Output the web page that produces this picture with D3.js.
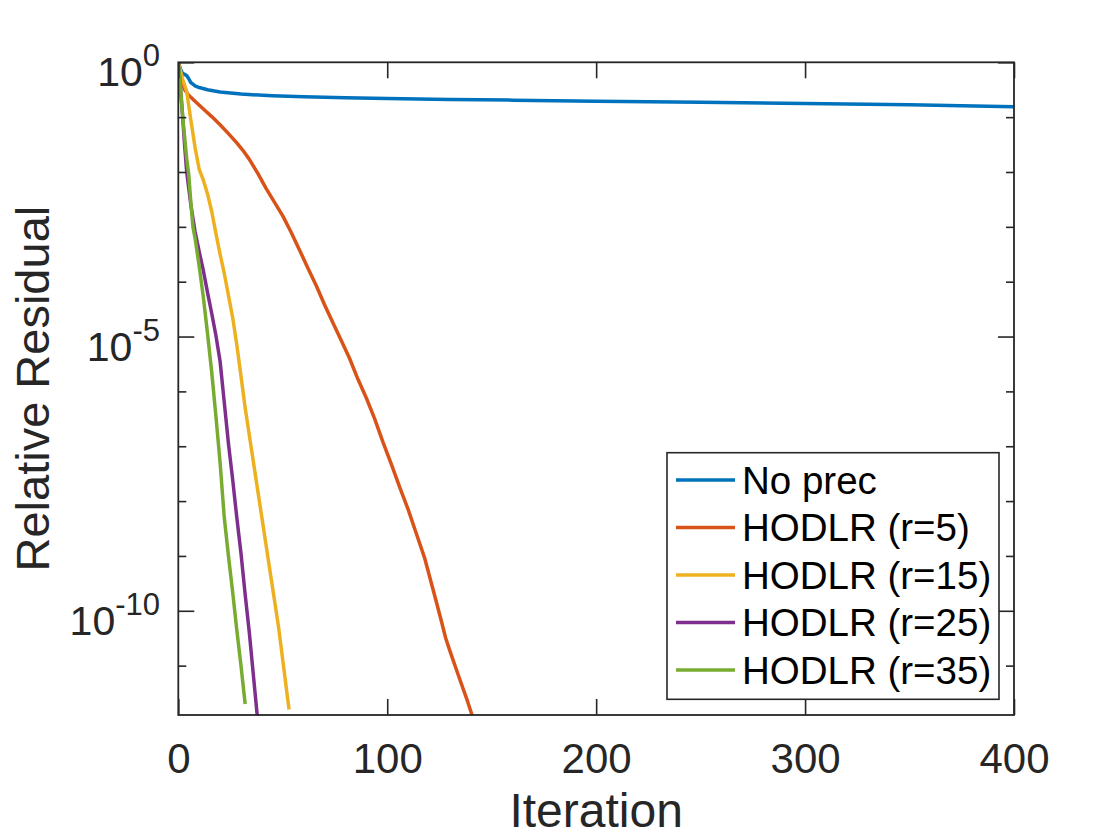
<!DOCTYPE html>
<html>
<head>
<meta charset="utf-8">
<script src="https://cdn.jsdelivr.net/npm/d3@7"></script>
<style>
  html, body { margin: 0; padding: 0; background: #fff; }
  svg text { font-family: "Liberation Sans", Arial, Helvetica, sans-serif; }
</style>
</head>
<body>
<div id="chart"></div>
<script>
// values, residuals stored as log10
const seriesNames = ["No prec", "HODLR (r=5)", "HODLR (r=15)", "HODLR (r=25)", "HODLR (r=35)"];
const seriesColors = ["#0072BD", "#D95319", "#EDB120", "#7E2F8E", "#77AC30"];

const noPrecIter = [0, 1, 2, 3, 4, 5, 6, 7, 8, 10, 14, 20, 30, 45, 60, 80, 100, 130, 160, 200, 250, 300, 350, 400];
const noPrecLog  = [0, -0.12, -0.2, -0.22, -0.24, -0.3, -0.37, -0.4, -0.43, -0.46, -0.5, -0.54, -0.58, -0.61, -0.63, -0.645, -0.66, -0.68, -0.69, -0.71, -0.73, -0.75, -0.775, -0.81];

const r5Iter = [0, 1, 2, 3, 5, 8, 12, 16, 20, 24, 28, 31, 34, 38, 42, 46, 50, 54, 58, 62, 66, 70, 74, 78, 82, 86, 90, 94, 98, 102, 106, 110, 114, 118, 122, 126, 128, 130, 134, 138, 141];
const r5Log  = [0, -0.25, -0.4, -0.5, -0.6, -0.71, -0.85, -0.99, -1.14, -1.3, -1.47, -1.61, -1.77, -2.02, -2.3, -2.55, -2.8, -3.1, -3.42, -3.75, -4.07, -4.42, -4.75, -5.07, -5.4, -5.78, -6.12, -6.5, -6.93, -7.33, -7.75, -8.15, -8.6, -9.05, -9.62, -10.2, -10.5, -10.73, -11.17, -11.6, -11.95];

const r15Iter = [0, 2, 4, 6, 8, 10, 12, 14, 16, 18, 20, 22, 24, 26, 28, 30, 32, 34, 36, 38, 40, 42, 44, 46, 48, 50, 52, 53];
const r15Log  = [0, -0.3, -0.53, -1.05, -1.55, -1.95, -2.15, -2.4, -2.72, -3.12, -3.5, -3.85, -4.25, -4.65, -5.15, -5.72, -6.3, -6.8, -7.3, -7.8, -8.3, -8.8, -9.3, -9.8, -10.3, -10.9, -11.5, -11.8];

const r25Iter = [0, 1, 2, 3, 4, 6, 8, 10, 12, 14, 16, 18, 20, 22, 24, 26, 28, 30, 32, 34, 36, 38];
const r25Log  = [0, -0.45, -0.95, -1.5, -1.99, -2.6, -3.08, -3.45, -3.8, -4.2, -4.58, -4.98, -5.45, -6.2, -6.95, -7.6, -8.3, -8.95, -9.7, -10.4, -11.2, -12.0];

const r35Iter = [0, 1, 2, 3, 4, 5, 6, 7, 8, 10, 12, 14, 16, 18, 20, 22, 24, 26, 28, 30, 32];
const r35Log  = [0, -0.45, -0.95, -1.35, -1.75, -2.05, -2.55, -3.0, -3.2, -3.72, -4.29, -4.95, -5.65, -6.45, -7.3, -8.3, -9.0, -9.65, -10.35, -11.0, -11.7];

const xTicks = [0, 100, 200, 300, 400];
const yMajorExp = [0, -5, -10];
const yMinorExp = [-1, -2, -3, -4, -6, -7, -8, -9, -11];

const seriesIter = [noPrecIter, r5Iter, r15Iter, r25Iter, r35Iter];
const seriesLog = [noPrecLog, r5Log, r15Log, r25Log, r35Log];

const W = 1120, H = 840;
const plotLeft = 178.3, plotRight = 1014, plotTop = 62.3, plotBottom = 715;
const axisColor = "#262626";

const svg = d3.select("#chart").append("svg")
  .attr("width", W).attr("height", H);

const xScale = d3.scaleLinear().domain([0, 400]).range([plotLeft, plotRight]);
const yScale = d3.scaleLog().domain([Math.pow(10, -11.9), 1]).range([plotBottom, plotTop]);

svg.append("defs").append("clipPath").attr("id", "plotclip")
  .append("rect")
  .attr("x", plotLeft).attr("y", plotTop)
  .attr("width", plotRight - plotLeft).attr("height", plotBottom - plotTop);

// lines
const line = d3.line()
  .x(d => xScale(d[0]))
  .y(d => yScale(Math.pow(10, d[1])));

const lines = svg.append("g").attr("clip-path", "url(#plotclip)");
for (let i = 0; i < seriesNames.length; i++) {
  let pts = seriesIter[i].map((it, j) => [it, seriesLog[i][j]]);
  lines.append("path")
    .datum(pts)
    .attr("d", line)
    .attr("fill", "none")
    .attr("stroke", seriesColors[i])
    .attr("stroke-width", 3.5)
    .attr("stroke-linejoin", "round");
}

// axes: bottom/left with labels, top/right mirrored ticks only, all ticks inward
const majorLen = 16, minorLen = 8;

let xAxisB = d3.axisBottom(xScale).tickValues(xTicks).tickSize(-majorLen).tickPadding(majorLen + 12).tickFormat(d3.format("d"));
let xAxisT = d3.axisTop(xScale).tickValues(xTicks).tickSize(-majorLen).tickFormat("");
let yAxisL = d3.axisLeft(yScale).tickValues(yMajorExp.map(e => Math.pow(10, e))).tickSize(-majorLen).tickFormat("");
let yAxisR = d3.axisRight(yScale).tickValues(yMajorExp.map(e => Math.pow(10, e))).tickSize(-majorLen).tickFormat("");
let yMinorL = d3.axisLeft(yScale).tickValues(yMinorExp.map(e => Math.pow(10, e))).tickSize(-minorLen).tickFormat("");
let yMinorR = d3.axisRight(yScale).tickValues(yMinorExp.map(e => Math.pow(10, e))).tickSize(-minorLen).tickFormat("");

function styleAxis(g) {
  g.select(".domain").remove();
  g.selectAll(".tick line").attr("stroke", axisColor).attr("stroke-width", 1.6);
  g.selectAll(".tick text").attr("fill", axisColor).style("font-size", "42px");
}

svg.append("g").attr("transform", `translate(0,${plotBottom})`).call(xAxisB).call(styleAxis);
svg.append("g").attr("transform", `translate(0,${plotTop})`).call(xAxisT).call(styleAxis);
svg.append("g").attr("transform", `translate(${plotLeft},0)`).call(yAxisL).call(styleAxis);
svg.append("g").attr("transform", `translate(${plotRight},0)`).call(yAxisR).call(styleAxis);
svg.append("g").attr("transform", `translate(${plotLeft},0)`).call(yMinorL).call(styleAxis);
svg.append("g").attr("transform", `translate(${plotRight},0)`).call(yMinorR).call(styleAxis);

// box
svg.append("rect")
  .attr("x", plotLeft).attr("y", plotTop)
  .attr("width", plotRight - plotLeft).attr("height", plotBottom - plotTop)
  .attr("fill", "none").attr("stroke", axisColor).attr("stroke-width", 1.8);

// y tick labels 10^e
yMajorExp.forEach(e => {
  let t = svg.append("text")
    .attr("x", 160)
    .attr("y", yScale(Math.pow(10, e)) + 24)
    .attr("text-anchor", "end")
    .attr("fill", axisColor)
    .style("font-size", "41px");
  t.append("tspan").text("10");
  t.append("tspan").attr("dy", -20).style("font-size", "31px").text(e === 0 ? "0" : "-" + Math.abs(e));
});

// axis labels
svg.append("text")
  .attr("x", (plotLeft + plotRight) / 2)
  .attr("y", 827)
  .attr("text-anchor", "middle")
  .attr("fill", axisColor)
  .style("font-size", "48px")
  .text("Iteration");

svg.append("text")
  .attr("transform", `translate(49,${(plotTop + plotBottom) / 2}) rotate(-90)`)
  .attr("text-anchor", "middle")
  .attr("fill", axisColor)
  .style("font-size", "47px")
  .text("Relative Residual");

// legend
const lg = svg.append("g");
lg.append("rect")
  .attr("x", 667).attr("y", 452.7)
  .attr("width", 332).attr("height", 246.6)
  .attr("fill", "#fff").attr("stroke", axisColor).attr("stroke-width", 1.6);

seriesNames.forEach((name, i) => {
  let cy = 480 + i * 47.5;
  lg.append("line")
    .attr("x1", 676).attr("x2", 735)
    .attr("y1", cy).attr("y2", cy)
    .attr("stroke", seriesColors[i]).attr("stroke-width", 3.5);
  lg.append("text")
    .attr("x", 742)
    .attr("y", cy + 13.5)
    .attr("fill", "#000")
    .style("font-size", "38.5px")
    .text(name);
});
</script>
</body>
</html>
